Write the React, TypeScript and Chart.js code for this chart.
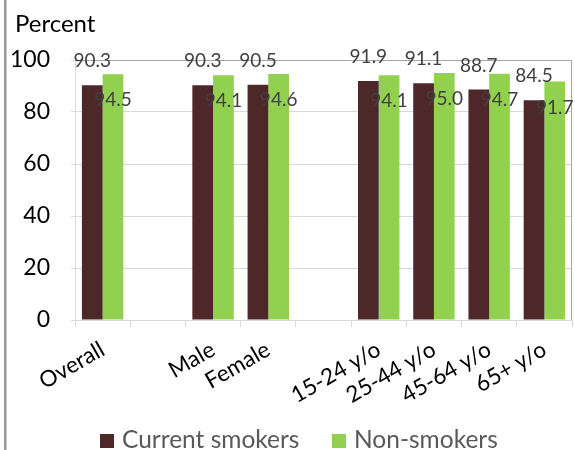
import React, { useEffect, useRef } from "react";
import { Chart, registerables } from "chart.js";

Chart.register(...registerables);

// Share of people (percent) by group, for current smokers and non-smokers
const categories: string[] = [
  "Overall",
  "",
  "Male",
  "Female",
  "",
  "15-24 y/o",
  "25-44 y/o",
  "45-64 y/o",
  "65+ y/o",
];
const currentSmokers: (number | null)[] = [90.3, null, 90.3, 90.5, null, 91.9, 91.1, 88.7, 84.5];
const nonSmokers: (number | null)[] = [94.5, null, 94.1, 94.6, null, 94.1, 95.0, 94.7, 91.7];
const seriesNames: string[] = ["Current smokers", "Non-smokers"];
const seriesColors: string[] = ["#4E2828", "#92D050"];
const yTicks: number[] = [0, 20, 40, 60, 80, 100];
const yTitle = "Percent";

const FONT = "Lato, 'Open Sans', sans-serif";

const decorations = {
  id: "decorations",
  afterDatasetsDraw(chart: any) {
    const ctx = chart.ctx as CanvasRenderingContext2D;
    const { left, right, top, bottom } = chart.chartArea;
    ctx.save();

    // plot area frame: top and right edges
    ctx.strokeStyle = "#a6a6a6";
    ctx.lineWidth = 1;
    ctx.beginPath();
    ctx.moveTo(left, top + 0.5);
    ctx.lineTo(right - 0.5, top + 0.5);
    ctx.lineTo(right - 0.5, bottom);
    ctx.stroke();

    // value labels: smokers above the bar, non-smokers inside its top
    ctx.font = `19px ${FONT}`;
    ctx.fillStyle = "#404040";
    ctx.textAlign = "center";
    ctx.textBaseline = "middle";
    chart.data.datasets.forEach((ds: any, di: number) => {
      const meta = chart.getDatasetMeta(di);
      meta.data.forEach((bar: any, i: number) => {
        const v = ds.data[i];
        if (v == null) return;
        const y = di === 0 ? bar.y - 24 : bar.y + 26;
        ctx.fillText(v.toFixed(1), bar.x, y);
      });
    });

    // axis title
    ctx.font = `24px ${FONT}`;
    ctx.fillStyle = "#000000";
    ctx.textAlign = "left";
    ctx.textBaseline = "alphabetic";
    ctx.fillText(yTitle, 15, 32);

    // legend
    ctx.font = `24.5px ${FONT}`;
    const legendX = [100, 332];
    seriesNames.forEach((name, i) => {
      ctx.fillStyle = seriesColors[i];
      ctx.fillRect(legendX[i], 434, 14, 14);
      ctx.fillStyle = "#595959";
      ctx.fillText(name, legendX[i] + 22, 448);
    });

    // left frame line
    ctx.fillStyle = "#9a9a9a";
    ctx.fillRect(4, 0, 2.5, 450);
    ctx.restore();
  },
};

export default function App() {
  const canvasRef = useRef<HTMLCanvasElement>(null);

  useEffect(() => {
    if (!canvasRef.current) return;
    const chart = new Chart(canvasRef.current, {
      type: "bar",
      data: {
        labels: categories,
        datasets: [
          {
            label: seriesNames[0],
            data: currentSmokers,
            backgroundColor: seriesColors[0],
            categoryPercentage: 0.75,
            barPercentage: 1,
          },
          {
            label: seriesNames[1],
            data: nonSmokers,
            backgroundColor: seriesColors[1],
            categoryPercentage: 0.75,
            barPercentage: 1,
          },
        ],
      },
      options: {
        responsive: false,
        animation: false,
        layout: { padding: { left: 0, top: 60, right: 3, bottom: 0 } },
        plugins: {
          legend: { display: false },
          tooltip: { enabled: false },
          title: { display: false },
        },
        scales: {
          x: {
            grid: {
              drawOnChartArea: false,
              drawTicks: true,
              tickLength: 7,
              color: "#d9d9d9",
              offset: true,
            },
            border: { color: "#d9d9d9" },
            ticks: {
              autoSkip: false,
              maxRotation: 30,
              minRotation: 30,
              color: "#000000",
              font: { family: FONT, size: 22.5 },
              padding: 9,
            },
            afterFit: (s: any) => {
              s.height = 130;
            },
          },
          y: {
            min: 0,
            max: 100,
            afterBuildTicks: (s: any) => {
              s.ticks = yTicks.map((v) => ({ value: v }));
            },
            grid: { color: "#d9d9d9", tickLength: 4 },
            border: { color: "#d9d9d9" },
            ticks: {
              color: "#000000",
              font: { family: FONT, size: 23 },
              padding: 21,
            },
            afterFit: (s: any) => {
              s.width = 75;
            },
          },
        },
      },
      plugins: [decorations],
    });
    return () => chart.destroy();
  }, []);

  return (
    <div style={{ position: "fixed", left: 0, top: 0, width: 575, height: 450, background: "#fff" }}>
      <canvas ref={canvasRef} width={575} height={450} />
    </div>
  );
}
